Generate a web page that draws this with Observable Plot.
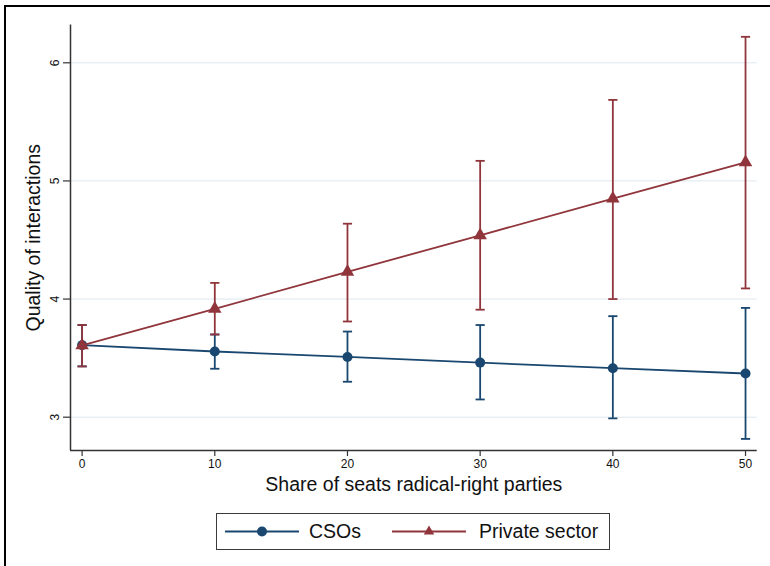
<!DOCTYPE html>
<html>
<head>
<meta charset="utf-8">
<script src="https://cdn.jsdelivr.net/npm/d3@7"></script>
<script src="https://cdn.jsdelivr.net/npm/@observablehq/plot@0.6"></script>
<style>
  html, body { margin: 0; padding: 0; background: #fff; overflow: hidden; }
  #wrap { position: relative; width: 770px; height: 566px; font-family: "Liberation Sans", Arial, Helvetica, sans-serif; }
  #frame { position: absolute; left: 4px; top: 5px; width: 780px; height: 580px; border-top: 2px solid #000; border-left: 2px solid #000; pointer-events: none; }
  #chart { position: absolute; left: 0; top: 0; }
  #chart g[aria-label$="tick label"] { font-size: 12px; }
  #legend { position: absolute; left: 216px; top: 513px; width: 392px; height: 35px; border: 1px solid #3a3a3a; background: #fff; }
  .lab { position: absolute; top: 0; line-height: 35px; font-size: 19.5px; color: #111; white-space: nowrap; }
</style>
</head>
<body>
<div id="wrap">
  <div id="chart"></div>
  <div id="legend"></div>
  <div id="frame"></div>
</div>
<script>
// ---- data ----
const shares = [0, 10, 20, 30, 40, 50];
const seriesNames = ["CSOs", "Private sector"];
const csoMean = [3.61, 3.556, 3.51, 3.462, 3.415, 3.37];
const csoLow  = [3.43, 3.41, 3.30, 3.15, 2.99, 2.816];
const csoHigh = [3.78, 3.70, 3.725, 3.78, 3.855, 3.925];
const privMean = [3.607, 3.917, 4.23, 4.54, 4.85, 5.157];
const privLow  = [3.43, 3.70, 3.81, 3.91, 4.00, 4.09];
const privHigh = [3.78, 4.137, 4.638, 5.17, 5.686, 6.22];
const xTicks = [0, 10, 20, 30, 40, 50];
const yTicks = [3, 4, 5, 6];
const xTitle = "Share of seats radical-right parties";
const yTitle = "Quality of interactions";

const BLUE = "#1a476f";
const RED = "#90353b";

const cso = shares.map((s, i) => ({x: s, y: csoMean[i], lo: csoLow[i], hi: csoHigh[i]}));
const priv = shares.map((s, i) => ({x: s, y: privMean[i], lo: privLow[i], hi: privHigh[i]}));

const cap = {
  draw(ctx, size) {
    const r = Math.sqrt(size / Math.PI);
    ctx.moveTo(-r, 0);
    ctx.lineTo(r, 0);
  }
};

function seriesMarks(data, color, symbol, r) {
  return [
    Plot.ruleX(data, {x: "x", y1: "lo", y2: "hi", stroke: color, strokeWidth: 1.8}),
    Plot.dot(data, {x: "x", y: "lo", symbol: cap, r: 4.6, stroke: color, strokeWidth: 1.8, fill: "none"}),
    Plot.dot(data, {x: "x", y: "hi", symbol: cap, r: 4.6, stroke: color, strokeWidth: 1.8, fill: "none"}),
    Plot.line(data, {x: "x", y: "y", stroke: color, strokeWidth: 1.8}),
    Plot.dot(data, {x: "x", y: "y", symbol, r, fill: color, stroke: "none"})
  ];
}

const xDomain = [-0.875, 50.88];
const yDomain = [2.718, 6.32];

const chart = Plot.plot({
  width: 770,
  height: 505,
  marginLeft: 70,
  marginRight: 13.3,
  marginTop: 24.5,
  marginBottom: 55,
  style: {fontFamily: "'Liberation Sans', Arial, Helvetica, sans-serif", fontSize: "12px", color: "#111", background: "transparent", overflow: "visible"},
  x: {domain: xDomain},
  y: {domain: yDomain},
  marks: [
    Plot.gridY(yTicks, {stroke: "#dde7ee", strokeOpacity: 1, strokeWidth: 1}),
    Plot.axisX({ticks: xTicks, tickFormat: d3.format("d"), tickSize: 6, tickPadding: 3, label: null, stroke: "#333", strokeWidth: 1.2, fontSize: 12}),
    Plot.axisY({ticks: yTicks, tickFormat: d3.format("d"), tickSize: 7, tickPadding: 5, tickRotate: -90, label: null, stroke: "#333", strokeWidth: 1.2, fontSize: 12}),
    Plot.ruleX([xDomain[0]], {stroke: "#333", strokeWidth: 1.5}),
    Plot.ruleY([yDomain[0]], {stroke: "#333", strokeWidth: 1.5}),
    ...seriesMarks(cso, BLUE, "circle", 5),
    ...seriesMarks(priv, RED, "triangle", 5),
    Plot.text([xTitle], {frameAnchor: "bottom", dy: 40, fontSize: 19.5, fill: "#111"}),
    Plot.text([yTitle], {frameAnchor: "left", textAnchor: "middle", dx: -37, rotate: -90, fontSize: 19.5, fill: "#111"})
  ]
});
document.getElementById("chart").appendChild(chart);

// ---- legend ----
const legend = document.getElementById("legend");
const legendItems = [
  {name: seriesNames[0], color: BLUE, sym: d3.symbolCircle, size: Math.PI * 25, left: 8, textLeft: 92},
  {name: seriesNames[1], color: RED, sym: d3.symbolTriangle2, size: Math.PI * 25, left: 175, textLeft: 262}
];
for (const it of legendItems) {
  const svg = d3.create("svg").attr("width", 74).attr("height", 35)
    .style("position", "absolute").style("left", it.left + "px").style("top", "0px");
  svg.append("line").attr("x1", 0).attr("x2", 74).attr("y1", 17.5).attr("y2", 17.5)
    .attr("stroke", it.color).attr("stroke-width", 1.8);
  svg.append("path").attr("d", d3.symbol(it.sym, it.size)())
    .attr("transform", "translate(37,17.5)").attr("fill", it.color);
  legend.appendChild(svg.node());
  const lab = document.createElement("div");
  lab.className = "lab";
  lab.style.left = it.textLeft + "px";
  lab.textContent = it.name;
  legend.appendChild(lab);
}
</script>
</body>
</html>
